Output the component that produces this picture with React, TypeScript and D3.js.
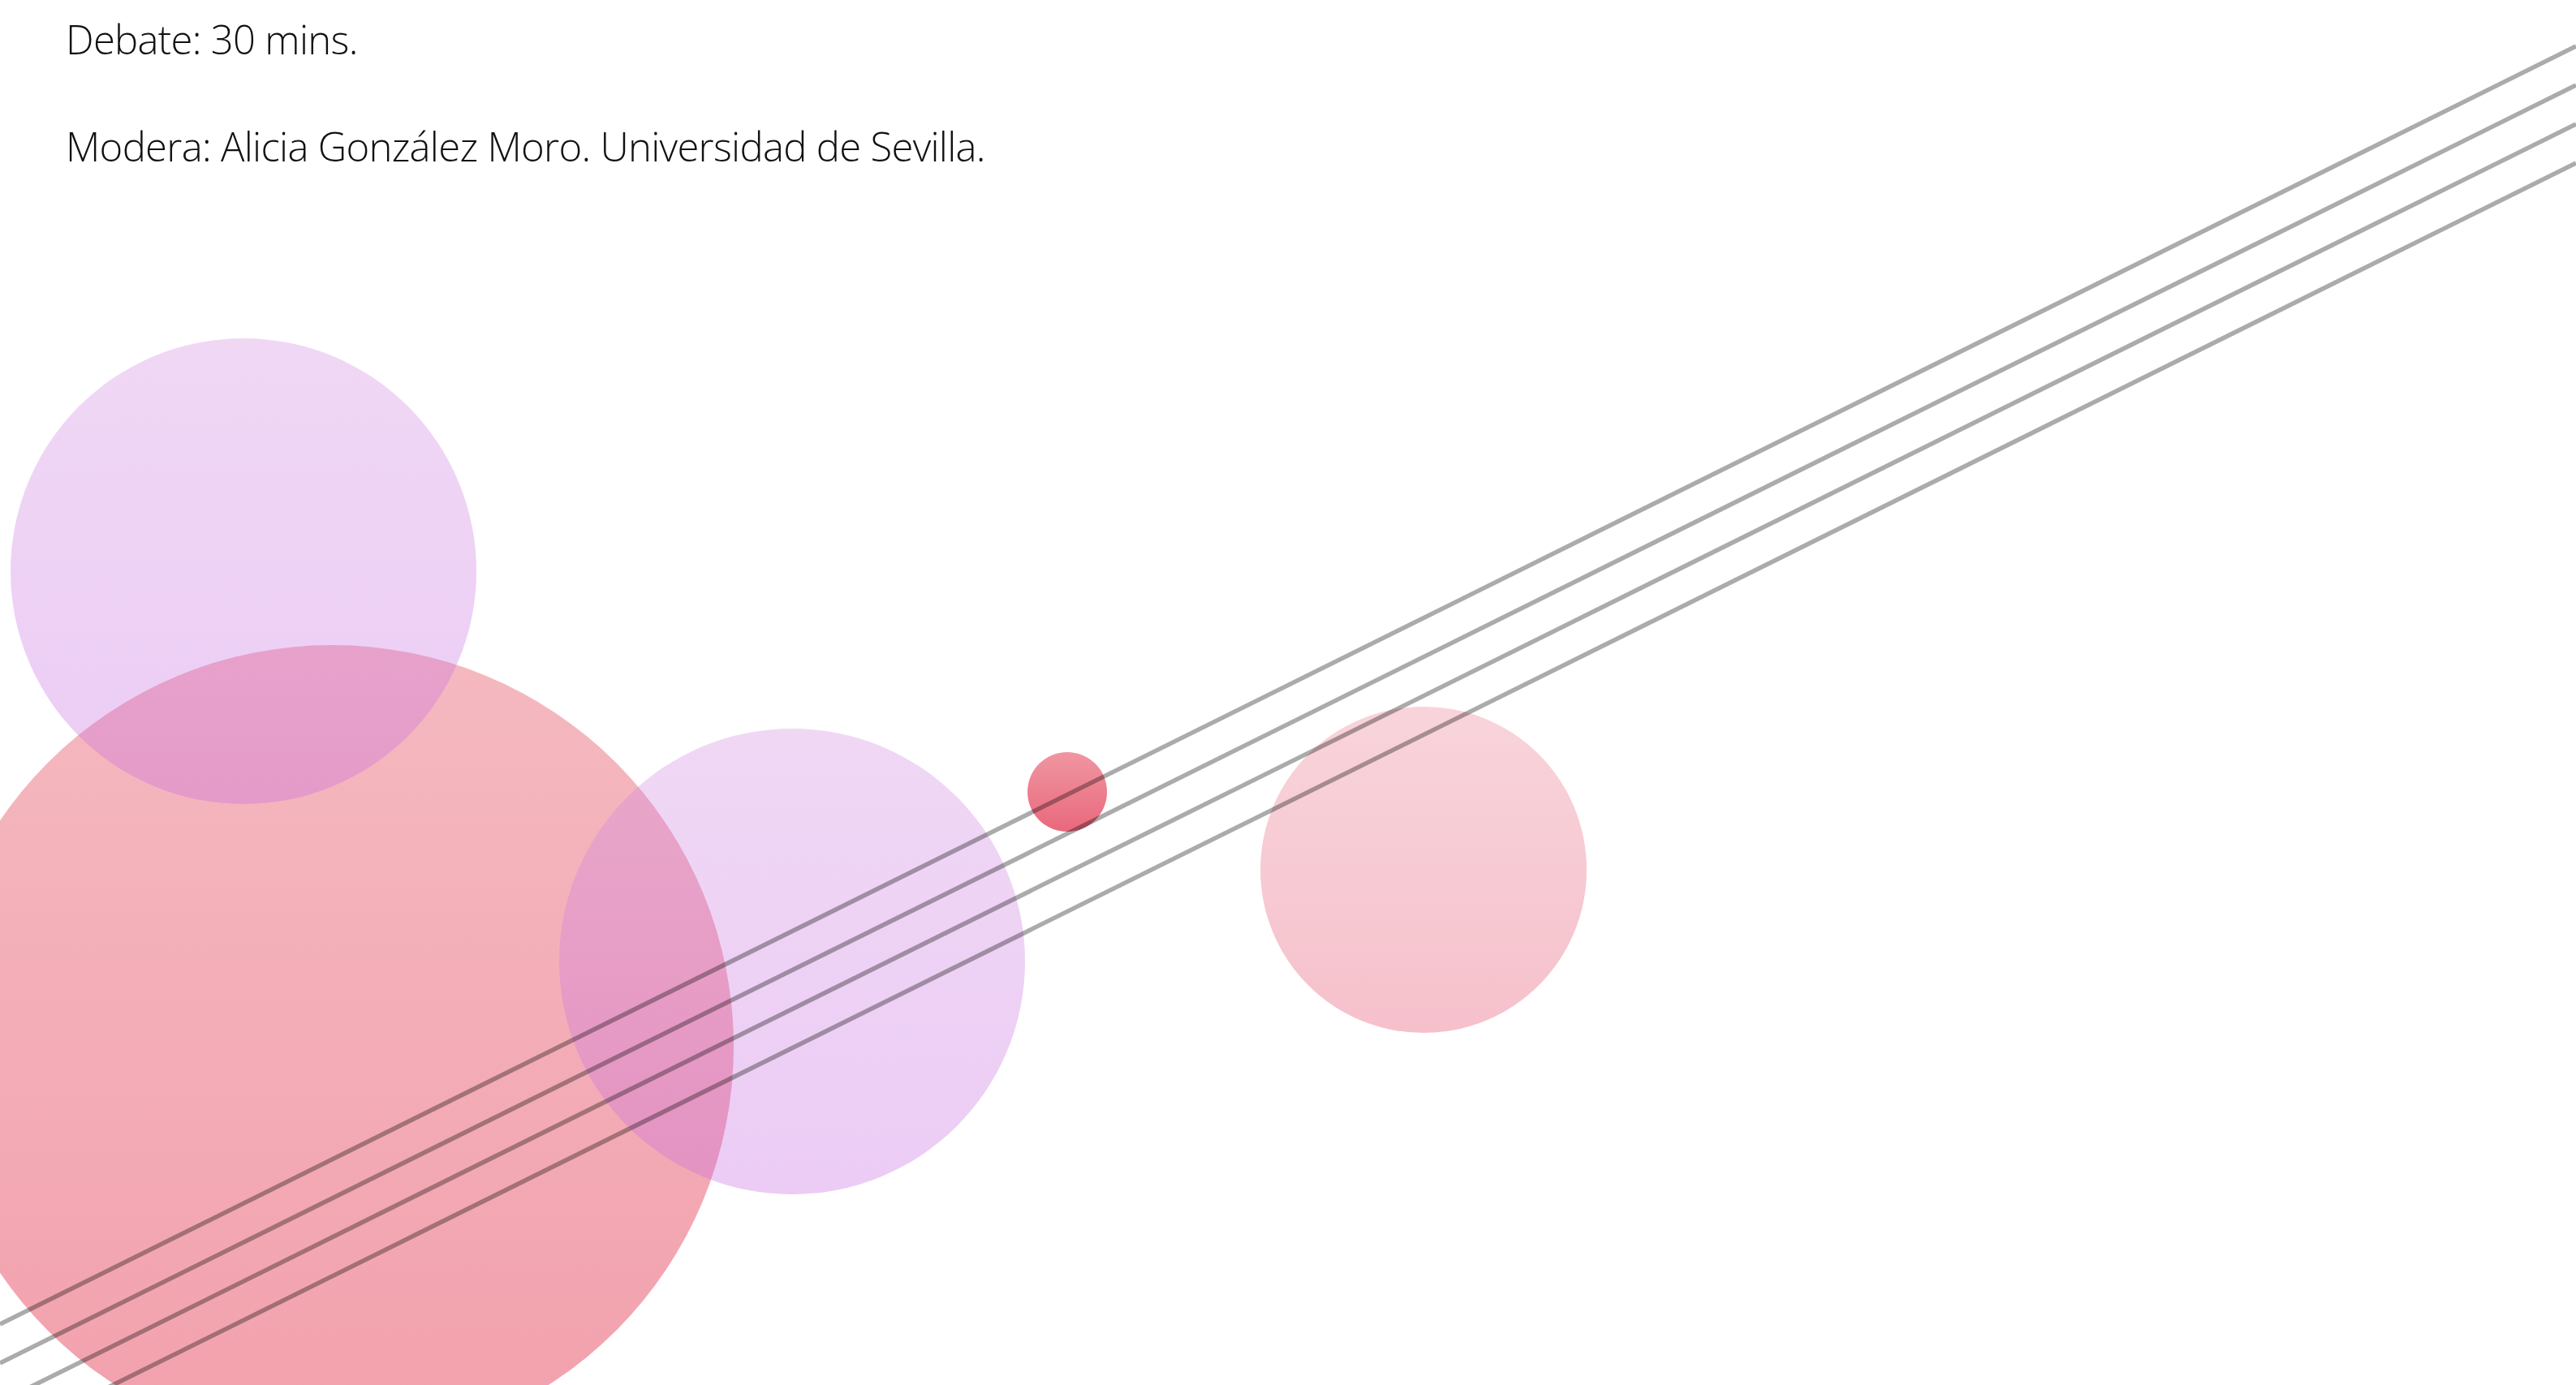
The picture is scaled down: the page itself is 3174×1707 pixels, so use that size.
import * as d3 from "d3";
import React, { useEffect, useRef } from "react";

// slide size the values were read against
const SLIDE_W = 3174;
const SLIDE_H = 1707;

// circles (centre x, centre y, radius), in slide units — drawn in this order
const circleNames = ["rosa-grande", "lila-1", "lila-2", "rosa-claro", "punto-rojo"];
const circleX = [409, 300, 976, 1754, 1315];
const circleY = [1290, 704, 1185, 1072, 976];
const circleR = [495, 287, 287, 201, 49];
const circleKind = ["rosa", "lila", "lila", "rosaClaro", "rojo"];

// four parallel stripes: y at left edge and at right edge
const stripeLeftY = [1632, 1680, 1728, 1776];
const stripeRightY = [57, 105, 153, 201];

const textLines = [
  "Debate: 30 mins.",
  "Modera: Alicia González Moro. Universidad de Sevilla.",
];
const textBaselines = [67, 199];

const gradients: Record<string, { top: string; bottom: string; opacity: number }> = {
  lila: { top: "#d38ce1", bottom: "#c769e1", opacity: 0.34 },
  rosa: { top: "#ee8a96", bottom: "#e96175", opacity: 0.6 },
  rosaClaro: { top: "#f0a0ad", bottom: "#eb748c", opacity: 0.45 },
  rojo: { top: "#f096a1", bottom: "#e9687c", opacity: 1 },
};

const Slide: React.FC<{ width: number; height: number }> = ({ width, height }) => {
  const svgRef = useRef<SVGSVGElement>(null);

  useEffect(() => {
    if (!svgRef.current) return;
    const svg = d3.select(svgRef.current);
    svg.selectAll("*").remove();
    svg.attr("width", width).attr("height", height).style("background", "#ffffff");

    const x = d3.scaleLinear().domain([0, SLIDE_W]).range([0, width]);
    const y = d3.scaleLinear().domain([0, SLIDE_H]).range([0, height]);

    const defs = svg.append("defs");
    Object.entries(gradients).forEach(([key, g]) => {
      const lg = defs
        .append("linearGradient")
        .attr("id", `grad-${key}`)
        .attr("x1", 0)
        .attr("y1", 0)
        .attr("x2", 0)
        .attr("y2", 1);
      lg.append("stop").attr("offset", "0%").attr("stop-color", g.top);
      lg.append("stop").attr("offset", "100%").attr("stop-color", g.bottom);
    });

    // circles
    svg
      .append("g")
      .selectAll("circle")
      .data(circleNames)
      .join("circle")
      .attr("class", (d) => d)
      .attr("cx", (d, i) => x(circleX[i]))
      .attr("cy", (d, i) => y(circleY[i]))
      .attr("r", (d, i) => x(circleR[i]))
      .attr("fill", (d, i) => `url(#grad-${circleKind[i]})`)
      .attr("fill-opacity", (d, i) => gradients[circleKind[i]].opacity);

    // stripes
    const line = d3
      .line<[number, number]>()
      .x((d) => x(d[0]))
      .y((d) => y(d[1]));

    svg
      .append("g")
      .selectAll("path")
      .data(stripeLeftY.map((ly, i) => [[0, ly], [SLIDE_W, stripeRightY[i]]] as [number, number][]))
      .join("path")
      .attr("d", (d) => line(d) || "")
      .attr("fill", "none")
      .attr("stroke", "#000000")
      .attr("stroke-opacity", 0.33)
      .attr("stroke-width", 5.5);

    // text
    svg
      .append("g")
      .selectAll("text")
      .data(textLines)
      .join("text")
      .attr("x", x(81))
      .attr("y", (d, i) => y(textBaselines[i]))
      .attr("font-family", "'Open Sans', sans-serif")
      .attr("font-weight", 300)
      .attr("font-size", 49)
      .attr("letter-spacing", -0.7)
      .attr("fill", "#111111")
      .text((d) => d);
  }, [width, height]);

  return <svg ref={svgRef} style={{ display: "block" }} />;
};

export default function App() {
  return (
    <div style={{ position: "fixed", left: 0, top: 0, width: "100vw", height: "100vh", overflow: "hidden" }}>
      <Slide width={SLIDE_W} height={SLIDE_H} />
    </div>
  );
}
